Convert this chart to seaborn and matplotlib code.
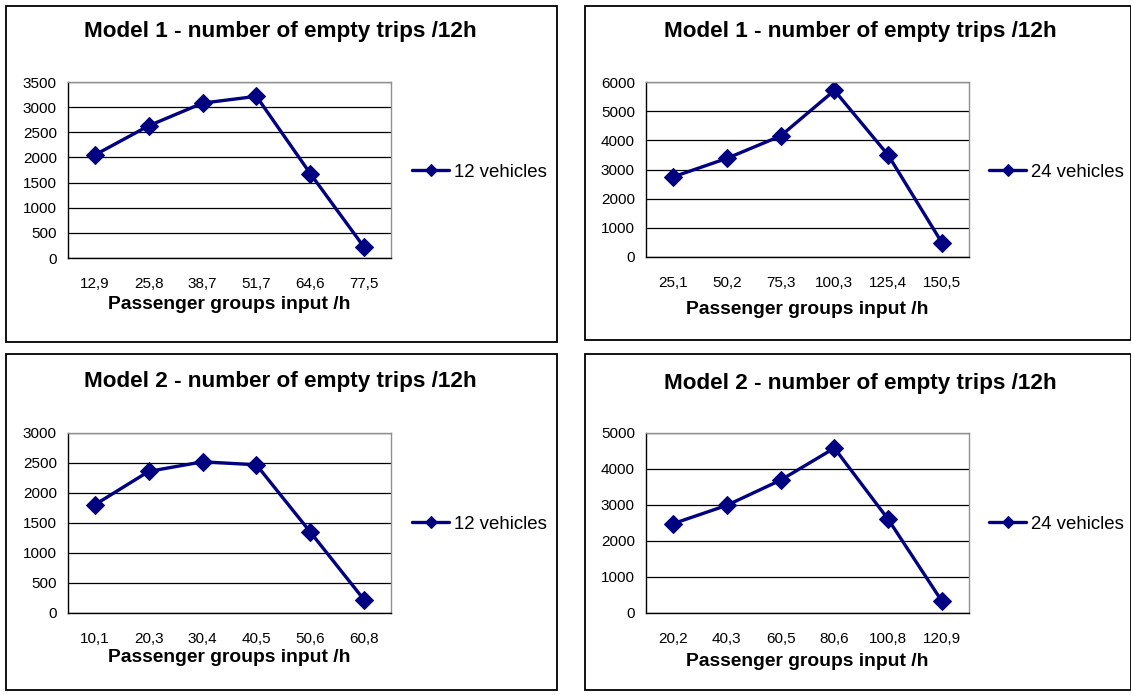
import numpy as np
import pandas as pd
import seaborn as sns
import matplotlib.pyplot as plt
from matplotlib.patches import Rectangle

# data
m1_12_x = ["12,9", "25,8", "38,7", "51,7", "64,6", "77,5"]
m1_12_y = [2050, 2630, 3080, 3215, 1680, 215]
m1_24_x = ["25,1", "50,2", "75,3", "100,3", "125,4", "150,5"]
m1_24_y = [2745, 3380, 4150, 5710, 3490, 480]
m2_12_x = ["10,1", "20,3", "30,4", "40,5", "50,6", "60,8"]
m2_12_y = [1805, 2360, 2520, 2470, 1350, 220]
m2_24_x = ["20,2", "40,3", "60,5", "80,6", "100,8", "120,9"]
m2_24_y = [2480, 2990, 3690, 4580, 2600, 320]

titles = ["Model 1 - number of empty trips /12h", "Model 1 - number of empty trips /12h",
          "Model 2 - number of empty trips /12h", "Model 2 - number of empty trips /12h"]
series_names = ["12 vehicles", "24 vehicles", "12 vehicles", "24 vehicles"]
y_maxes = [3500, 6000, 3000, 5000]
y_steps = [500, 1000, 500, 1000]

W, H = 1131, 695
sns.set_style("white")
plt.rcParams['font.family'] = ['Liberation Sans', 'DejaVu Sans']
plt.rcParams['text.color'] = 'black'
plt.rcParams['xtick.color'] = 'black'
plt.rcParams['ytick.color'] = 'black'
plt.rcParams['axes.labelcolor'] = 'black'

fig = plt.figure(figsize=(W / 100, H / 100), dpi=100)
fig.patch.set_facecolor("white")


def rect(l, t, r, b):
    return [l / W, 1 - b / H, (r - l) / W, (b - t) / H]


ax_boxes = [(68, 82, 391, 258), (646, 82, 969, 257), (68, 433, 391, 613), (646, 433, 969, 613)]
panel_boxes = [(6, 6, 557, 342), (585, 6, 1131, 340), (6, 354, 557, 690), (585, 354, 1131, 690)]
title_pos = [(280, 31), (860, 32), (280, 382), (860, 383)]
xlabel_y = [305, 310, 658, 661]
legend_pos = [(412, 172), (989, 172), (412, 524), (989, 524)]

panels = [(m1_12_x, m1_12_y), (m1_24_x, m1_24_y), (m2_12_x, m2_12_y), (m2_24_x, m2_24_y)]
navy = "#000080"

for i, (xl, yv) in enumerate(panels):
    l, t, r, b = panel_boxes[i]
    fig.patches.append(Rectangle((l / W, 1 - b / H), (r - l) / W, (b - t) / H,
                                 transform=fig.transFigure, fill=False,
                                 edgecolor="black", linewidth=1.3))

    ax = fig.add_axes(rect(*ax_boxes[i]))
    df = pd.DataFrame({"pos": np.arange(len(xl)), "value": yv})
    sns.lineplot(data=df, x="pos", y="value", ax=ax, color=navy, linewidth=2.4,
                 marker="D", markersize=9.5, markeredgecolor=navy, label=series_names[i])

    ax.set_xlim(-0.5, len(xl) - 0.5)
    ax.set_ylim(0, y_maxes[i])
    ax.set_yticks(np.arange(0, y_maxes[i] + 1, y_steps[i]))
    ax.set_xticks(np.arange(-0.5, len(xl), 1))
    ax.set_xticklabels([])
    ax.set_xticks(np.arange(len(xl)), minor=True)
    ax.set_xticklabels(xl, minor=True)
    ax.tick_params(axis="x", which="major", length=5, width=1, color="black", direction="out")
    ax.tick_params(axis="x", which="minor", length=0, labelsize=11, pad=14)
    ax.tick_params(axis="y", length=5, width=1, color="black", direction="out", labelsize=11, pad=3)
    ax.grid(axis="y", color="black", linewidth=0.9)
    ax.set_axisbelow(True)
    for s in ["left", "bottom"]:
        ax.spines[s].set_color("black")
        ax.spines[s].set_linewidth(1)
    for s in ["top", "right"]:
        ax.spines[s].set_color("#909090")
        ax.spines[s].set_linewidth(1)
    ax.set_xlabel("")
    ax.set_ylabel("")

    cx = (ax_boxes[i][0] + ax_boxes[i][2]) / 2
    fig.text(cx / W, 1 - xlabel_y[i] / H, "Passenger groups input /h",
             ha="center", va="center", fontsize=13.9, fontweight="bold")
    tx, ty = title_pos[i]
    fig.text(tx / W, 1 - ty / H, titles[i], ha="center", va="center",
             fontsize=16.2, fontweight="bold")

    lx, ly = legend_pos[i]
    ax.legend(loc="center left", bbox_to_anchor=(lx / W, 1 - ly / H),
              bbox_transform=fig.transFigure, frameon=False, fontsize=13.4,
              handlelength=2.0, handletextpad=0.25, markerscale=0.6,
              borderpad=0, borderaxespad=0)

fig.savefig("out.png", dpi=100, facecolor="white")
